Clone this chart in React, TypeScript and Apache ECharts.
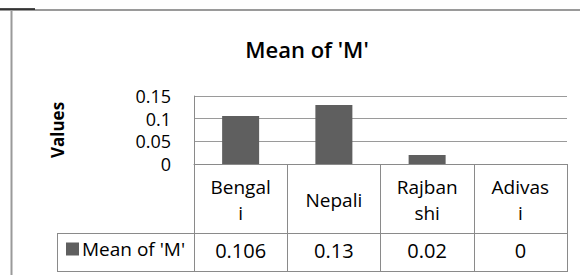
import React, { useEffect, useRef } from "react";
import * as echarts from "echarts";

const categories = ["Bengal\ni", "Nepali", "Rajban\nshi", "Adivas\ni"];
const seriesName = "Mean of 'M'";
const values = [0.106, 0.13, 0.02, 0];
const valueLabels = ["0.106", "0.13", "0.02", "0"];
const yTicks = [0, 0.05, 0.1, 0.15];

const FONT = "'Open Sans', 'DejaVu Sans', sans-serif";
const TABLE = "#8a8a8a";

export default function App() {
  const ref = useRef<HTMLDivElement>(null);
  useEffect(() => {
    if (!ref.current) return;
    const chart = echarts.init(ref.current, null, { renderer: "svg" });
    chart.setOption({
      animation: false,
      backgroundColor: "#ffffff",
      title: {
        text: "Mean of 'M'",
        left: 302,
        top: 33,
        textAlign: "center",
        textStyle: { fontFamily: FONT, fontSize: 22, fontWeight: 600, color: "#000" },
      },
      legend: {
        data: [seriesName],
        left: 66,
        top: 239,
        padding: 0,
        icon: "rect",
        itemWidth: 13,
        itemHeight: 13,
        textStyle: { fontFamily: FONT, fontSize: 19, fontWeight: 500, color: "#000", lineHeight: 20, padding: [0, 0, 0, -2] },
      },
      grid: [
        { left: 194, right: 13, top: 96, height: 68 },
        { left: 194, right: 13, top: 233, height: 39 },
      ],
      xAxis: [
        {
          type: "category",
          gridIndex: 0,
          data: categories,
          axisLine: { show: true, lineStyle: { color: TABLE, width: 1 } },
          axisTick: { show: true, interval: 0, length: 108, lineStyle: { color: TABLE, width: 1 } },
          axisLabel: {
            interval: 0,
            margin: 36,
            verticalAlign: "middle",
            fontFamily: FONT,
            fontSize: 19,
            fontWeight: 500,
            lineHeight: 26,
            color: "#000",
          },
        },
        {
          type: "category",
          gridIndex: 1,
          position: "top",
          data: categories,
          axisLine: { show: false },
          axisTick: { show: false },
          axisLabel: {
            interval: 0,
            inside: true,
            margin: 17,
            verticalAlign: "middle",
            fontFamily: FONT,
            fontSize: 20,
            fontWeight: 500,
            color: "#000",
            formatter: (_v: string, i: number) => valueLabels[i],
          },
        },
      ],
      yAxis: [
        {
          type: "value",
          gridIndex: 0,
          min: yTicks[0],
          max: yTicks[yTicks.length - 1],
          interval: 0.05,
          name: "Values",
          nameLocation: "middle",
          nameRotate: 90,
          nameGap: 128,
          nameTextStyle: { fontFamily: FONT, fontSize: 17, fontWeight: "bold", color: "#000" },
          axisLine: { show: true, lineStyle: { color: TABLE, width: 1 } },
          axisTick: { show: false },
          splitLine: { show: true, lineStyle: { color: "#9a9a9a", width: 1 } },
          axisLabel: {
            margin: 23,
            fontFamily: FONT,
            fontSize: 18,
            fontWeight: 500,
            color: "#000",
            formatter: (v: number) => String(Math.round(v * 100) / 100),
          },
        },
        { type: "value", gridIndex: 1, show: false, min: 0, max: 1 },
      ],
      series: [
        {
          name: seriesName,
          type: "bar",
          xAxisIndex: 0,
          yAxisIndex: 0,
          data: values,
          barWidth: 37,
          itemStyle: { color: "#5f5f5f" },
        },
      ],
      graphic: [
        { type: "line", shape: { x1: 0, y1: 10, x2: 580, y2: 10 }, style: { stroke: "#9a9a9a", lineWidth: 2 } },
        { type: "line", shape: { x1: 0, y1: 9, x2: 35, y2: 9 }, style: { stroke: "#111", lineWidth: 1.5 } },
        { type: "line", shape: { x1: 11.5, y1: 10, x2: 11.5, y2: 275 }, style: { stroke: "#9a9a9a", lineWidth: 2 } },
        { type: "line", shape: { x1: 57, y1: 233.5, x2: 567, y2: 233.5 }, style: { stroke: TABLE, lineWidth: 1 } },
        { type: "line", shape: { x1: 57, y1: 271.5, x2: 567, y2: 271.5 }, style: { stroke: TABLE, lineWidth: 1 } },
        { type: "line", shape: { x1: 57.5, y1: 233, x2: 57.5, y2: 272 }, style: { stroke: TABLE, lineWidth: 1 } },
      ],
    });
    return () => chart.dispose();
  }, []);
  return (
    <div
      ref={ref}
      style={{ position: "absolute", left: 0, top: 0, width: 580, height: 275 }}
    />
  );
}
